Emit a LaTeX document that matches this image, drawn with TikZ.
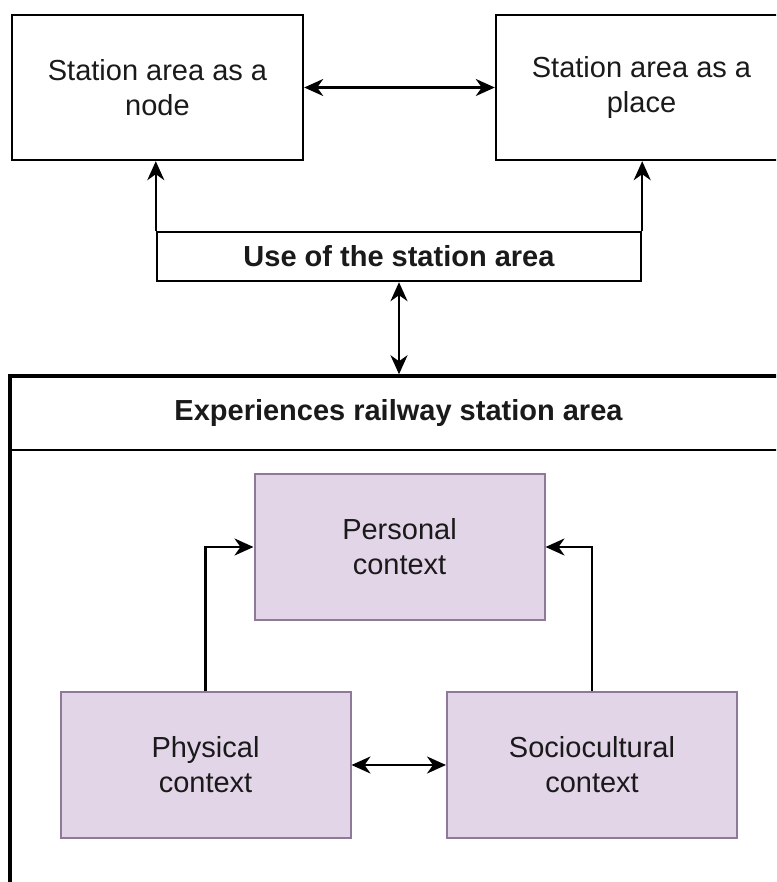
\documentclass[tikz,border=0pt]{standalone}
\usepackage{fontspec}
\setmainfont{Liberation Sans}
\usetikzlibrary{arrows.meta}

\definecolor{ctxfill}{HTML}{E1D5E7}
\definecolor{ctxline}{HTML}{8E7A98}
\definecolor{ink}{HTML}{1A1A1A}

\tikzset{
  plainbox/.style={draw=black, line width=2.4pt, fill=white, minimum width=291pt,
    minimum height=145pt, align=center, text=ink, inner sep=0pt,
    font=\fontsize{29}{35}\selectfont},
  usebox/.style={draw=black, line width=2.4pt, fill=white, minimum width=484pt,
    minimum height=49pt, inner sep=0pt, text=ink,
    font=\fontsize{29}{35}\selectfont\bfseries},
  lanebox/.style={draw=black, line width=3.5pt, minimum width=777pt,
    minimum height=574pt, inner sep=0pt},
  ctxbox/.style={draw=ctxline, line width=2pt, fill=ctxfill, minimum width=290pt,
    minimum height=146pt, align=center, text=ink, inner sep=0pt,
    font=\fontsize{29}{35}\selectfont},
  link/.style={draw=black, line width=2.4pt, -{Stealth[length=19pt, width=17pt, inset=6pt]}},
  twoway/.style={draw=black, line width=2.4pt,
    {Stealth[length=19pt, width=17pt, inset=6pt]}-{Stealth[length=19pt, width=17pt, inset=6pt]}},
}

\begin{document}
\begin{tikzpicture}[x=1pt, y=-1pt]
  \useasboundingbox (0,0) rectangle (776,882);
  \clip (0,0) rectangle (776,882);
  \fill[white] (0,0) rectangle (776,882);

  % top level: the two readings of the station area
  \node[plainbox] (node)  at (157.5,87.5) {Station area as a\\node};
  \node[plainbox] (place) at (641.5,87.5) {Station area as a\\place};
  \node[usebox]   (use)   at (399,256.5) {Use of the station area};

  % swimlane holding the three contexts
  \node[lanebox] (lane) at (398.5,663) {};
  \coordinate (hdl) at (lane.north west |- 0,450);
  \coordinate (hdr) at (lane.north east |- 0,450);
  \draw[line width=2.4pt] (hdl) -- (hdr);
  \node[text=ink, font=\fontsize{29}{35}\selectfont\bfseries] (lanetitle)
    at (398.5,413) {Experiences railway station area};

  \node[ctxbox] (pers) at (399.5,547) {Personal\\context};
  \node[ctxbox] (phys) at (205.5,765) {Physical\\context};
  \node[ctxbox] (soc)  at (592,765)   {Sociocultural\\context};

  % connectors
  \draw[twoway] (node) -- (place);
  \draw[link] (use.north west) -- (use.north west |- node.south);
  \draw[link] (use.north east) -- (use.north east |- place.south);
  \draw[twoway] (use.south) -- (use.south |- lane.north);
  \draw[link] (phys.north) |- (pers.west);
  \draw[link] (soc.north) |- (pers.east);
  \draw[twoway] (phys) -- (soc);
\end{tikzpicture}
\end{document}
